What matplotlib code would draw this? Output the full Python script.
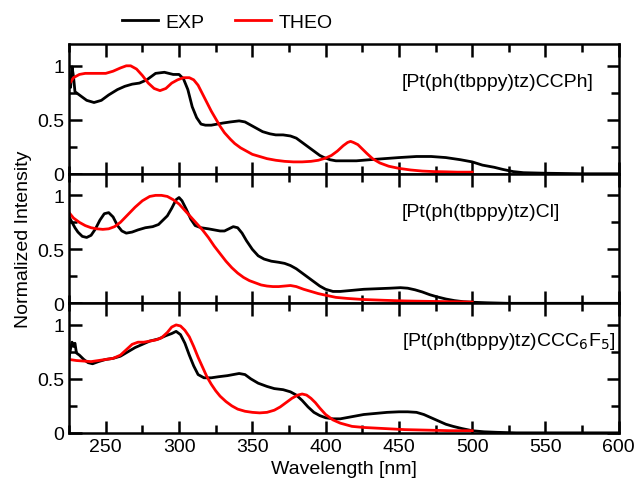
import numpy as np
import matplotlib
matplotlib.use('Agg')
from matplotlib import pyplot as plt
from matplotlib.ticker import MultipleLocator

plt.rcParams['font.family'] = ['Liberation Sans', 'DejaVu Sans']

# panel 1 : [Pt(ph(tbppy)tz)CCPh]
exp1_x = [225, 226, 227, 228, 229, 230, 233, 237, 242, 247, 252, 258, 263, 268, 273, 278, 284, 290, 296, 300,
          303, 306, 309, 312, 315, 318, 322, 326, 330, 335, 341, 345, 349, 353, 357, 362, 366, 371, 376, 380,
          384, 388, 392, 396, 399, 403, 407, 412, 421, 430, 440, 450, 462, 472, 482, 492, 500, 507, 515, 521,
          528, 535, 550, 575, 600]
exp1_y = [0.85, 0.80, 0.99, 0.90, 0.76, 0.75, 0.72, 0.68, 0.66, 0.68, 0.73, 0.78, 0.81, 0.83, 0.84, 0.87, 0.93,
          0.94, 0.92, 0.92, 0.88, 0.78, 0.62, 0.52, 0.46, 0.45, 0.45, 0.46, 0.47, 0.48, 0.49, 0.48, 0.45, 0.42,
          0.39, 0.37, 0.36, 0.36, 0.35, 0.33, 0.29, 0.25, 0.21, 0.17, 0.15, 0.13, 0.12, 0.12, 0.12, 0.13, 0.14,
          0.15, 0.16, 0.16, 0.15, 0.13, 0.11, 0.08, 0.06, 0.04, 0.02, 0.01, 0.005, 0.0, 0.0]
theo1_x = [225, 228, 232, 236, 240, 245, 250, 255, 260, 264, 267, 271, 275, 279, 283, 287, 291, 295, 299, 303,
           307, 310, 313, 316, 319, 322, 325, 328, 331, 335, 338, 342, 346, 350, 355, 360, 366, 372, 378, 384,
           390, 395, 400, 404, 408, 412, 415, 417, 419, 422, 425, 428, 432, 437, 443, 450, 458, 466, 474, 482,
           490, 500]
theo1_y = [0.83, 0.89, 0.92, 0.93, 0.93, 0.93, 0.93, 0.95, 0.98, 1.0, 1.0, 0.97, 0.91, 0.84, 0.79, 0.77, 0.79,
           0.84, 0.87, 0.89, 0.89, 0.87, 0.82, 0.74, 0.66, 0.58, 0.51, 0.44, 0.38, 0.32, 0.28, 0.24, 0.21, 0.18,
           0.16, 0.14, 0.125, 0.115, 0.11, 0.11, 0.115, 0.125, 0.145, 0.17, 0.21, 0.26, 0.29, 0.30, 0.29, 0.27,
           0.23, 0.19, 0.14, 0.10, 0.07, 0.05, 0.035, 0.025, 0.02, 0.018, 0.015, 0.015]

# panel 2 : [Pt(ph(tbppy)tz)Cl]
exp2_x = [225, 227, 229, 231, 234, 237, 240, 243, 246, 249, 252, 255, 258, 261, 264, 268, 272, 277, 282, 286,
          289, 292, 295, 298, 300, 302, 305, 308, 311, 315, 320, 324, 328, 331, 334, 337, 340, 343, 346, 350,
          354, 358, 363, 368, 372, 376, 380, 384, 388, 392, 396, 400, 405, 410, 418, 426, 435, 444, 451, 456,
          461, 466, 471, 476, 482, 488, 494, 500, 510, 525, 550, 575, 600]
exp2_y = [0.80, 0.75, 0.70, 0.66, 0.62, 0.61, 0.63, 0.69, 0.77, 0.83, 0.84, 0.80, 0.72, 0.67, 0.65, 0.66, 0.68,
          0.70, 0.71, 0.73, 0.77, 0.81, 0.88, 0.96, 0.98, 0.95, 0.87, 0.78, 0.72, 0.70, 0.69, 0.68, 0.67, 0.67,
          0.69, 0.71, 0.70, 0.65, 0.58, 0.50, 0.44, 0.41, 0.39, 0.38, 0.37, 0.35, 0.32, 0.28, 0.24, 0.20, 0.16,
          0.13, 0.11, 0.11, 0.12, 0.13, 0.135, 0.14, 0.145, 0.14, 0.125, 0.105, 0.08, 0.06, 0.04, 0.025, 0.015,
          0.01, 0.005, 0.0, 0.0, 0.0, 0.0]
theo2_x = [225, 228, 232, 236, 240, 244, 248, 252, 256, 260, 265, 270, 275, 280, 284, 288, 292, 296, 300, 304,
           308, 312, 316, 320, 324, 328, 332, 336, 340, 344, 348, 352, 356, 360, 364, 368, 372, 376, 380, 385,
           390, 395, 400, 407, 415, 426, 440, 454, 470, 485, 500]
theo2_y = [0.84, 0.79, 0.75, 0.72, 0.70, 0.69, 0.685, 0.69, 0.71, 0.75, 0.82, 0.89, 0.95, 0.99, 1.0, 1.0, 0.99,
           0.96, 0.92, 0.86, 0.80, 0.74, 0.68, 0.61, 0.53, 0.46, 0.39, 0.33, 0.28, 0.24, 0.21, 0.19, 0.17, 0.16,
           0.155, 0.155, 0.16, 0.165, 0.155, 0.13, 0.11, 0.09, 0.075, 0.055, 0.045, 0.035, 0.028, 0.022, 0.018,
           0.015, 0.012]

# panel 3 : [Pt(ph(tbppy)tz)CCC6F5]
exp3_x = [225, 226, 227, 228, 229, 230, 232, 235, 238, 241, 245, 250, 255, 260, 265, 270, 275, 280, 286, 291,
          295, 298, 301, 304, 307, 310, 313, 317, 322, 327, 333, 337, 341, 345, 349, 354, 360, 365, 371, 376,
          380, 384, 388, 392, 396, 400, 405, 410, 418, 426, 434, 442, 450, 456, 462, 467, 472, 477, 482, 487,
          493, 500, 508, 517, 530, 550, 575, 600]
exp3_y = [0.70, 0.78, 0.84, 0.80, 0.83, 0.74, 0.72, 0.68, 0.65, 0.64, 0.66, 0.68, 0.69, 0.71, 0.75, 0.79, 0.82,
          0.85, 0.87, 0.90, 0.92, 0.94, 0.91, 0.83, 0.72, 0.62, 0.54, 0.51, 0.51, 0.52, 0.53, 0.54, 0.55, 0.54,
          0.50, 0.46, 0.43, 0.41, 0.40, 0.38, 0.35, 0.30, 0.24, 0.19, 0.16, 0.14, 0.13, 0.13, 0.15, 0.17, 0.18,
          0.19, 0.195, 0.195, 0.19, 0.17, 0.14, 0.11, 0.08, 0.06, 0.04, 0.02, 0.01, 0.005, 0.0, 0.0, 0.0, 0.0]
theo3_x = [225, 230, 235, 240, 245, 250, 255, 260, 264, 268, 272, 276, 280, 284, 288, 292, 295, 298, 301, 304,
           307, 310, 313, 316, 319, 322, 325, 328, 332, 336, 340, 345, 350, 355, 360, 365, 369, 373, 377, 381,
           384, 387, 390, 393, 396, 400, 405, 410, 418, 426, 440, 454, 470, 485, 500]
theo3_y = [0.68, 0.67, 0.665, 0.66, 0.67, 0.68, 0.69, 0.72, 0.77, 0.82, 0.84, 0.84, 0.85, 0.86, 0.88, 0.93,
           0.98, 1.0, 0.99, 0.95, 0.89, 0.80, 0.70, 0.61, 0.52, 0.45, 0.39, 0.34, 0.29, 0.25, 0.22, 0.20, 0.19,
           0.185, 0.19, 0.21, 0.24, 0.28, 0.32, 0.35, 0.36, 0.35, 0.32, 0.28, 0.23, 0.17, 0.12, 0.09, 0.06, 0.05,
           0.04, 0.03, 0.025, 0.02, 0.02]

labels = ['[Pt(ph(tbppy)tz)CCPh]', '[Pt(ph(tbppy)tz)Cl]', '[Pt(ph(tbppy)tz)CCC$_6$F$_5$]']
exp_data = [(exp1_x, exp1_y), (exp2_x, exp2_y), (exp3_x, exp3_y)]
theo_data = [(theo1_x, theo1_y), (theo2_x, theo2_y), (theo3_x, theo3_y)]

fs = 14
fig = plt.figure(figsize=(6.34, 4.81), dpi=100)
gs = fig.add_gridspec(3, 1, left=0.109, right=0.976, bottom=0.098, top=0.906, hspace=0)

for i in range(3):
    ax = fig.add_subplot(gs[i])
    l1, = ax.plot(*exp_data[i], color='black', lw=2, label='EXP')
    l2, = ax.plot(*theo_data[i], color='#ff0000', lw=2, label='THEO')
    ax.set_xlim(225, 600)
    ax.set_ylim(0, 1.2)
    ax.xaxis.set_major_locator(MultipleLocator(50))
    ax.xaxis.set_minor_locator(MultipleLocator(25))
    ax.set_yticks([0, 0.5, 1])
    ax.set_yticklabels(['0', '0.5', '1'])
    ax.yaxis.set_minor_locator(MultipleLocator(0.25))
    ax.tick_params(which='both', direction='in', top=True, right=True, width=1.8, labelsize=fs)
    ax.tick_params(which='major', length=9)
    ax.tick_params(which='minor', length=6)
    for s in ax.spines.values():
        s.set_linewidth(1.8)
    ax.text(0.605, 0.71, labels[i], transform=ax.transAxes, ha='left', va='center', fontsize=fs)
    if i < 2:
        ax.tick_params(labelbottom=False)
    else:
        ax.set_xlabel('Wavelength [nm]', fontsize=fs, labelpad=4)
    if i == 1:
        ax.set_ylabel('Normalized Intensity', fontsize=fs, labelpad=4)

fig.legend([l1, l2], ['EXP', 'THEO'], loc='center left', bbox_to_anchor=(0.193, 0.952), ncol=2,
           frameon=False, fontsize=fs, handlelength=1.85, columnspacing=1.6, handletextpad=0.36,
           borderpad=0, borderaxespad=0)

plt.savefig('out.png', dpi=100)
